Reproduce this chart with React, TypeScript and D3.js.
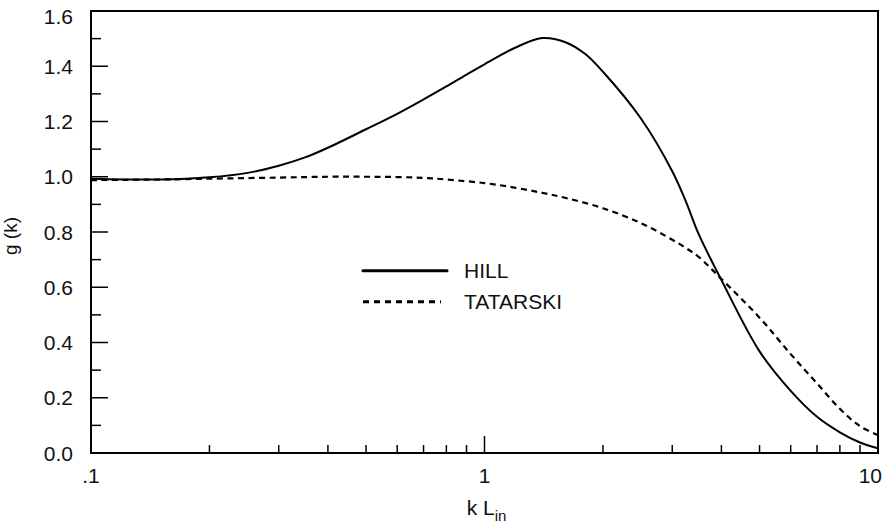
import * as d3 from "d3";

const WIDTH = 884;
const HEIGHT = 525;
const MARGIN = { top: 11, right: 6, bottom: 72, left: 91 };

// wave number k * L_in for each curve
const hillK = [
  0.1, 0.15, 0.2, 0.25, 0.3, 0.35, 0.4, 0.5, 0.6, 0.7, 0.8, 0.9, 1.0, 1.2, 1.4,
  1.6, 1.8, 2, 2.5, 3, 3.25, 3.5, 4, 5, 6, 7, 8, 9, 10,
];
const hillValues = [
  0.993, 0.99, 0.998, 1.014, 1.04, 1.07, 1.105, 1.172, 1.228, 1.28, 1.327,
  1.37, 1.407, 1.468, 1.502, 1.488, 1.445, 1.38, 1.21, 1.02, 0.91, 0.793,
  0.626, 0.368, 0.225, 0.131, 0.075, 0.038, 0.017,
];
const tatarskiK = [
  0.1, 0.15, 0.2, 0.3, 0.4, 0.5, 0.6, 0.7, 0.8, 1.0, 1.2, 1.4, 1.6, 2, 2.5, 3,
  3.25, 3.5, 4, 5, 6, 7, 8, 9, 10,
];
const tatarskiValues = [
  0.988, 0.99, 0.993, 0.997, 1.0, 1.0, 0.999, 0.996, 0.99, 0.977, 0.96,
  0.942, 0.924, 0.886, 0.832, 0.772, 0.742, 0.71, 0.63, 0.49, 0.358, 0.252,
  0.16, 0.097, 0.065,
];

const yMajorTicks = [0, 0.2, 0.4, 0.6, 0.8, 1.0, 1.2, 1.4, 1.6];
const yMinorTicks = [0.1, 0.3, 0.5, 0.7, 0.9, 1.1, 1.3, 1.5];
const xMajorTicks = [0.1, 1, 10];
const xTickLabels = [".1", "1", "10"];
const xMinorTicks = [
  0.2, 0.3, 0.4, 0.5, 0.6, 0.7, 0.8, 0.9, 2, 3, 4, 5, 6, 7, 8, 9,
];

const FONT = "'Liberation Sans', Arial, sans-serif";
const FS = 21;

export default function App() {
  const boundsWidth = WIDTH - MARGIN.left - MARGIN.right;
  const boundsHeight = HEIGHT - MARGIN.top - MARGIN.bottom;

  const xScale = d3.scaleLog().domain([0.1, 10]).range([0, boundsWidth]);
  const yScale = d3.scaleLinear().domain([0, 1.6]).range([boundsHeight, 0]);

  const makeLine = (ks: number[]) =>
    d3
      .line<number>()
      .x((_, i) => xScale(ks[i]))
      .y((d) => yScale(d))
      .curve(d3.curveCatmullRom.alpha(0.5));

  return (
    <svg
      width={WIDTH}
      height={HEIGHT}
      style={{ position: "absolute", left: 0, top: 0, background: "#fff" }}
      fontFamily={FONT}
    >
      <g transform={`translate(${MARGIN.left},${MARGIN.top})`}>
        {/* curves */}
        <path
          d={makeLine(tatarskiK)(tatarskiValues) || ""}
          fill="none"
          stroke="#000"
          strokeWidth={2.2}
          strokeDasharray="6,4.5"
        />
        <path
          d={makeLine(hillK)(hillValues) || ""}
          fill="none"
          stroke="#000"
          strokeWidth={2}
        />

        {/* frame */}
        <rect
          x={0}
          y={0}
          width={boundsWidth}
          height={boundsHeight}
          fill="none"
          stroke="#000"
          strokeWidth={2}
        />

        {/* y ticks */}
        {yMajorTicks.map((v) => (
          <g key={"ym" + v}>
            <line x1={0} x2={17} y1={yScale(v)} y2={yScale(v)} stroke="#000" strokeWidth={1.5} />
            <text
              x={-18}
              y={Math.max(yScale(v), 5)}
              dy="0.36em"
              textAnchor="end"
              fontSize={FS}
              fill="#111"
            >
              {v.toFixed(1)}
            </text>
          </g>
        ))}
        {yMinorTicks.map((v) => (
          <line key={"yn" + v} x1={0} x2={10} y1={yScale(v)} y2={yScale(v)} stroke="#000" strokeWidth={1.5} />
        ))}

        {/* x ticks */}
        {xMajorTicks.map((v, i) => (
          <g key={"xm" + v}>
            <line
              x1={xScale(v)}
              x2={xScale(v)}
              y1={boundsHeight}
              y2={boundsHeight - 17}
              stroke="#000"
              strokeWidth={1.5}
            />
            <text
              x={i === xMajorTicks.length - 1 ? xScale(v) + 4 : xScale(v)}
              y={boundsHeight + 30}
              textAnchor={i === xMajorTicks.length - 1 ? "end" : "middle"}
              fontSize={FS}
              fill="#111"
            >
              {xTickLabels[i]}
            </text>
          </g>
        ))}
        {xMinorTicks.map((v) => (
          <line
            key={"xn" + v}
            x1={xScale(v)}
            x2={xScale(v)}
            y1={boundsHeight}
            y2={boundsHeight - 8}
            stroke="#000"
            strokeWidth={1.5}
          />
        ))}

        {/* axis titles */}
        <text
          x={xScale(1) + 2}
          y={boundsHeight + 62}
          textAnchor="middle"
          fontSize={FS}
          fill="#111"
        >
          k L
          <tspan fontSize={15} dy={6}>
            in
          </tspan>
        </text>
        <text
          transform={`translate(${-74},${yScale(0.8) + 4}) rotate(-90)`}
          textAnchor="middle"
          fontSize={19}
          fill="#111"
        >
          g (k)
        </text>

        {/* legend */}
        <g transform={`translate(${272},${yScale(0.66)})`}>
          <line x1={0} x2={84} y1={0} y2={0} stroke="#000" strokeWidth={3} strokeLinecap="round" />
          <text x={101} y={0} dy="0.36em" fontSize={FS} fill="#111">
            HILL
          </text>
          <line
            x1={0}
            x2={78}
            y1={31}
            y2={31}
            stroke="#000"
            strokeWidth={3}
            strokeDasharray="6,5"
          />
          <text x={101} y={31} dy="0.36em" fontSize={FS} fill="#111">
            TATARSKI
          </text>
        </g>
      </g>
    </svg>
  );
}
